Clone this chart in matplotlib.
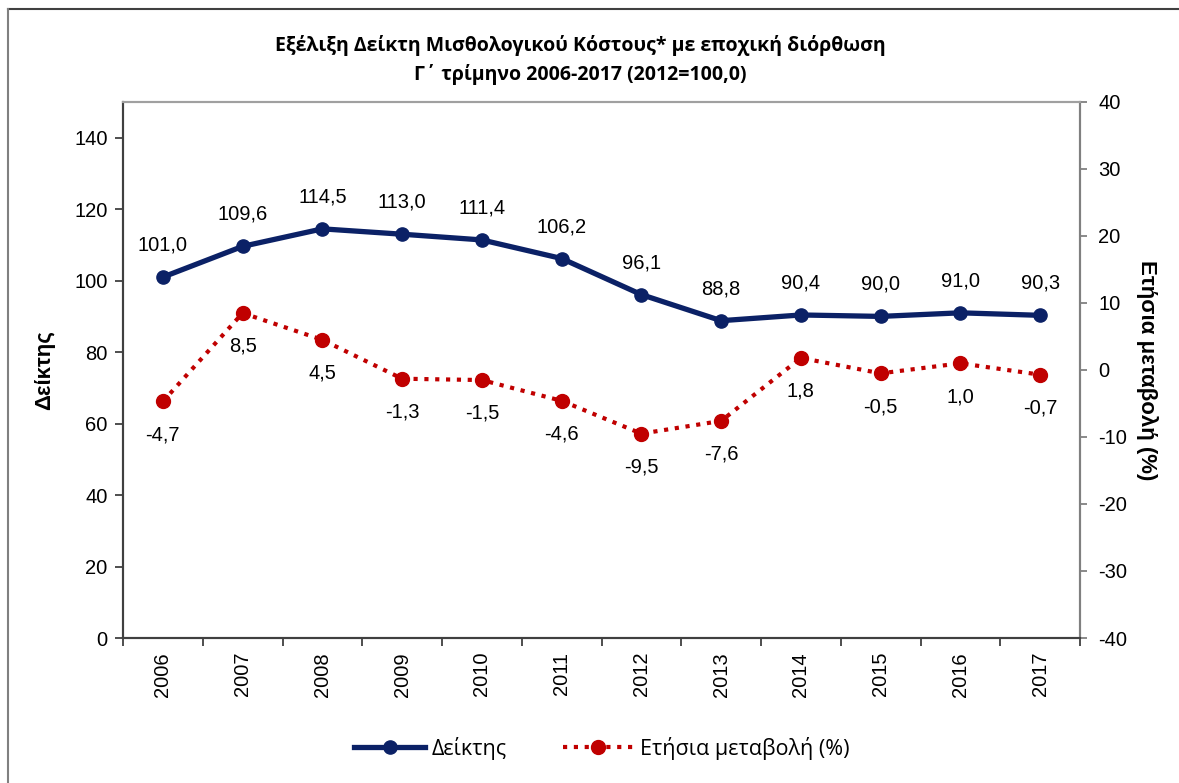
import matplotlib.pyplot as plt
from matplotlib.lines import Line2D
import numpy as np

plt.rcParams["axes.unicode_minus"] = False

years = ["2006", "2007", "2008", "2009", "2010", "2011",
         "2012", "2013", "2014", "2015", "2016", "2017"]
index_values = [101.0, 109.6, 114.5, 113.0, 111.4, 106.2,
                96.1, 88.8, 90.4, 90.0, 91.0, 90.3]
annual_change = [-4.7, 8.5, 4.5, -1.3, -1.5, -4.6,
                 -9.5, -7.6, 1.8, -0.5, 1.0, -0.7]

title = "Εξέλιξη Δείκτη Μισθολογικού Κόστους* με εποχική διόρθωση\nΓ΄ τρίμηνο 2006-2017 (2012=100,0)"
left_label = "Δείκτης"
right_label = "Ετήσια μεταβολή (%)"

NAVY = "#0b2166"
RED = "#c00000"
TICK_FONT = ["Liberation Sans", "DejaVu Sans"]
TITLE_FONT = ["Open Sans", "DejaVu Sans"]
FS = 14.5


def fmt(v):
    return f"{v:.1f}".replace(".", ",")


fig = plt.figure(figsize=(11.79, 7.83), dpi=100)
ax = fig.add_axes([123 / 1179, 1 - 638 / 783, 957 / 1179, 536 / 783])
ax2 = ax.twinx()

x = np.arange(len(years))

ax.plot(x, index_values, color=NAVY, lw=3.8, marker="o", ms=9.5, zorder=3)
ax2.plot(x, annual_change, color=RED, lw=3, ls=(0, (1, 1.6)), marker="o",
         ms=10, zorder=3)

for xi, v in zip(x, index_values):
    ax.annotate(fmt(v), (xi, v), xytext=(0, 23), textcoords="offset points",
                ha="center", va="center", fontsize=FS, family=TICK_FONT)
for xi, v in zip(x, annual_change):
    ax2.annotate(fmt(v), (xi, v), xytext=(0, -24), textcoords="offset points",
                 ha="center", va="center", fontsize=FS, family=TICK_FONT)

ax.set_xlim(-0.5, len(years) - 0.5)
ax.set_ylim(0, 150)
ax.set_yticks(np.arange(0, 141, 20))
ax2.set_ylim(-40, 40)
ax2.set_yticks(np.arange(-40, 41, 10))

ax.set_xticks(x)
ax.set_xticklabels(years, rotation=90, fontsize=FS, family=TICK_FONT)
ax.set_xticks(np.arange(-0.5, len(years), 1), minor=True)
ax.tick_params(axis="x", which="major", length=0, pad=10)
ax.tick_params(axis="x", which="minor", length=6, width=1.3, color="#404040")
ax.tick_params(axis="y", length=6, width=1.3, color="#404040", labelsize=FS, pad=5)
for lab in ax.get_yticklabels():
    lab.set_family(TICK_FONT)
ax2.tick_params(axis="y", length=5, width=1.3, color="#808080", labelsize=FS, pad=8)
for lab in ax2.get_yticklabels():
    lab.set_family(TICK_FONT)

for a in (ax, ax2):
    a.spines["left"].set_color("#404040")
    a.spines["bottom"].set_color("#404040")
    a.spines["right"].set_color("#808080")
    a.spines["top"].set_color("#a0a0a0")
    for s in a.spines.values():
        s.set_linewidth(1.5)

ax.set_ylabel(left_label, fontsize=16, fontweight="bold", family=TICK_FONT, labelpad=14)
ax2.set_ylabel(right_label, fontsize=16, fontweight="bold", family=TICK_FONT,
               rotation=-90, labelpad=22)

fig.text(580 / 1179, 1 - 60 / 783, title, ha="center", va="center",
         fontsize=14, fontweight="bold", family=TITLE_FONT, linespacing=1.55)

handles = [
    Line2D([], [], color=NAVY, lw=3.8, marker="o", ms=9.5),
    Line2D([], [], color=RED, lw=3, ls=(0, (1, 1.6)), marker="o", ms=10),
]
fig.legend(handles, ["Δείκτης", right_label], loc="center",
           bbox_to_anchor=(602 / 1179, 1 - 748 / 783), ncol=2, frameon=False,
           prop={"family": TITLE_FONT, "size": 15.5}, handlelength=3.3,
           columnspacing=2.6, handletextpad=0.3)

# outer chart frame (top and left edges only)
fig.add_artist(Line2D([8 / 1179, 1], [1 - 9 / 783, 1 - 9 / 783],
                      transform=fig.transFigure, color="#404040", lw=1.5))
fig.add_artist(Line2D([8 / 1179, 8 / 1179], [0, 1 - 9 / 783],
                      transform=fig.transFigure, color="#808080", lw=1.5))

fig.savefig("out.png", dpi=100)
